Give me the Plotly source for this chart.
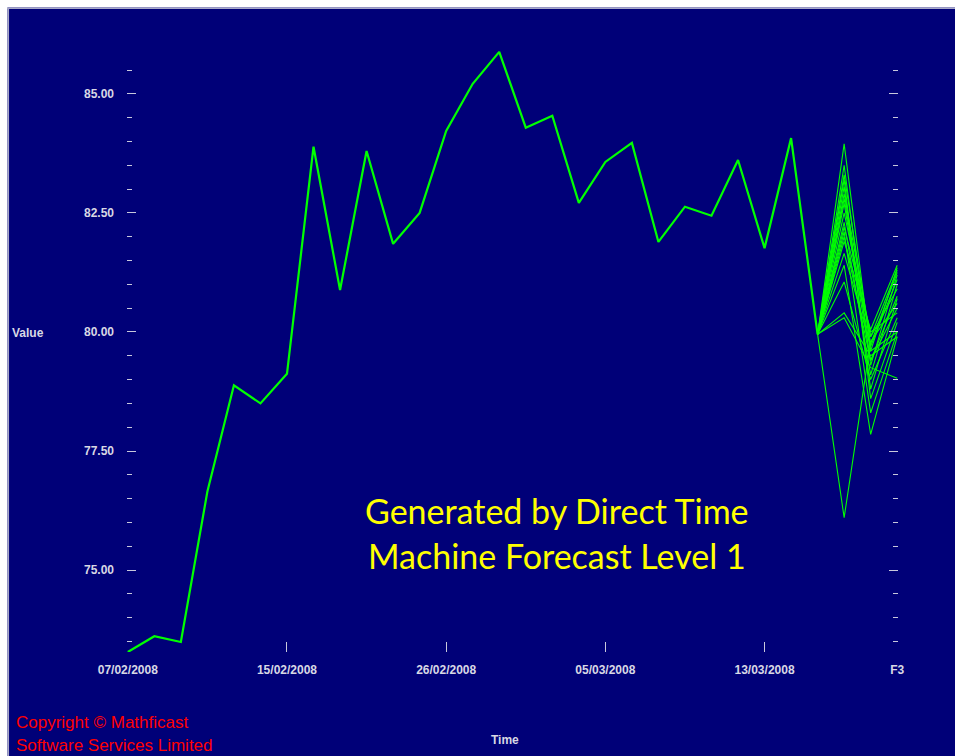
import plotly.graph_objects as go

# ---------------- data ----------------
tick_labels = ["07/02/2008", "15/02/2008", "26/02/2008", "05/03/2008", "13/03/2008", "F3"]
tick_index = [0, 6, 12, 18, 24, 29]

actual_values = [73.28, 73.61, 73.49, 76.65, 78.88, 78.50, 79.12, 83.89, 80.88, 83.80,
                 81.85, 82.50, 84.22, 85.21, 85.88, 84.29, 84.54, 82.71, 83.57, 83.97,
                 81.89, 82.63, 82.44, 83.61, 81.76, 84.07, 79.95]

# forecast paths: values at F1, F2, F3
forecast_paths = [
    [83.95, 79.60, 81.35],
    [83.50, 79.30, 81.20],
    [83.05, 78.80, 80.70],
    [82.90, 79.90, 81.30],
    [82.70, 79.40, 80.50],
    [82.30, 79.10, 81.00],
    [82.20, 80.00, 80.40],
    [82.10, 78.30, 80.00],
    [81.65, 79.70, 81.10],
    [81.40, 77.85, 79.90],
    [81.05, 79.00, 80.30],
    [80.40, 79.50, 79.90],
    [80.30, 79.25, 79.03],
    [76.10, 79.80, 80.60],
    [82.50, 79.90, 80.90],
    [83.20, 78.60, 80.20],
    [81.90, 80.05, 81.40],
    [82.80, 79.60, 80.00],
    [83.30, 79.75, 81.25],
    [82.00, 79.40, 80.75],
]

major_ticks = [75.0, 77.5, 80.0, 82.5, 85.0]
minor_ticks = [73.5, 74.0, 74.5, 75.5, 76.0, 76.5, 77.0, 78.0, 78.5, 79.0, 79.5,
               80.5, 81.0, 81.5, 82.0, 83.0, 83.5, 84.0, 84.5, 85.5]

# ---------------- layout helpers ----------------
W, H = 955, 756
L, R, T, B = 127, 898, 20, 652
y_min, y_max = 73.28, 86.55


def px(x):  # screen pixel -> paper
    return (x - L) / (R - L)


def py(y):
    return (B - y) / (B - T)


NAVY = "#000078"
GREEN = "#00ff00"
TICKCOL = "#c8c8dc"
LABELCOL = "#d8d8e4"

fig = go.Figure()

n_actual = len(actual_values)
fig.add_trace(go.Scatter(
    x=list(range(n_actual)), y=actual_values, mode="lines",
    line=dict(color=GREEN, width=2.2), showlegend=False, hoverinfo="skip",
))

last_idx = n_actual - 1
for path in forecast_paths:
    fig.add_trace(go.Scatter(
        x=[last_idx + i for i in range(len(path) + 1)],
        y=[actual_values[-1]] + path, mode="lines",
        line=dict(color=GREEN, width=1.1), showlegend=False, hoverinfo="skip",
        yaxis="y2",
    ))

tick_font = dict(family="Arial", size=12, color=LABELCOL, weight="bold")

fig.update_layout(
    width=W, height=H,
    margin=dict(l=L, r=W - R, t=T, b=H - B),
    paper_bgcolor=NAVY, plot_bgcolor=NAVY,
    showlegend=False,
    xaxis=dict(
        range=[-0.03, 29.03], tickmode="array", tickvals=tick_index, ticktext=tick_labels,
        ticks="inside", ticklen=10, tickwidth=1, tickcolor=TICKCOL,
        showgrid=False, zeroline=False, showline=False,
        tickfont=tick_font, ticklabelstandoff=9,
    ),
    yaxis=dict(
        range=[y_min, y_max], tickmode="array", tickvals=major_ticks,
        ticktext=[f"{v:.2f}" for v in major_ticks],
        ticks="inside", ticklen=9, tickwidth=1, tickcolor=TICKCOL,
        minor=dict(tickmode="array", tickvals=minor_ticks, ticks="inside",
                   ticklen=5, tickwidth=1, tickcolor=TICKCOL, showgrid=False),
        showgrid=False, zeroline=False, showline=False,
        tickfont=tick_font, ticklabelstandoff=12,
    ),
    yaxis2=dict(
        range=[y_min, y_max], overlaying="y", side="right", anchor="x",
        tickmode="array", tickvals=major_ticks, showticklabels=False,
        ticks="inside", ticklen=9, tickwidth=1, tickcolor=TICKCOL,
        minor=dict(tickmode="array", tickvals=minor_ticks, ticks="inside",
                   ticklen=5, tickwidth=1, tickcolor=TICKCOL, showgrid=False),
        showgrid=False, zeroline=False, showline=False,
    ),
)

# white strips and thin border at top and left of the navy panel
fig.add_shape(type="rect", xref="paper", yref="paper",
              x0=px(-5), x1=px(W + 5), y0=py(7.5), y1=py(-5),
              fillcolor="white", line=dict(width=0), layer="above")
fig.add_shape(type="rect", xref="paper", yref="paper",
              x0=px(-5), x1=px(7.5), y0=py(H + 5), y1=py(-5),
              fillcolor="white", line=dict(width=0), layer="above")
fig.add_shape(type="line", xref="paper", yref="paper",
              x0=px(7), x1=px(W + 20), y0=py(8.3), y1=py(8.3),
              line=dict(color="#a8a8c8", width=1.5), layer="above")
fig.add_shape(type="line", xref="paper", yref="paper",
              x0=px(8.3), x1=px(8.3), y0=py(8), y1=py(H + 20),
              line=dict(color="#a8a8c8", width=1.5), layer="above")

# texts
fig.add_annotation(text="Value", xref="paper", yref="paper", x=px(28), y=py(333),
                   showarrow=False, xanchor="center", yanchor="middle",
                   font=dict(family="Arial", size=12, color=LABELCOL, weight="bold"))
fig.add_annotation(text="Time", xref="paper", yref="paper", x=px(505), y=py(740),
                   showarrow=False, xanchor="center", yanchor="middle",
                   font=dict(family="Arial", size=12, color=LABELCOL, weight="bold"))
fig.add_annotation(text="Generated by Direct Time", xref="paper", yref="paper",
                   x=px(557), y=py(510), showarrow=False, xanchor="center", yanchor="middle",
                   font=dict(family="Lato", size=34, color="#ffff00"))
fig.add_annotation(text="Machine Forecast Level 1", xref="paper", yref="paper",
                   x=px(557), y=py(555), showarrow=False, xanchor="center", yanchor="middle",
                   font=dict(family="Lato", size=34, color="#ffff00"))
fig.add_annotation(text="Copyright © Mathficast", xref="paper", yref="paper",
                   x=px(14), y=py(722), showarrow=False, xanchor="left", yanchor="middle",
                   font=dict(family="Arial", size=17, color="#ff0000"))
fig.add_annotation(text="Software Services Limited", xref="paper", yref="paper",
                   x=px(14), y=py(745), showarrow=False, xanchor="left", yanchor="middle",
                   font=dict(family="Arial", size=17, color="#ff0000"))

fig.write_html(
    "out.html",
    config={"displayModeBar": False},
    post_script=("document.body.style.margin='0';"
                 "document.documentElement.style.overflow='hidden';"),
)
